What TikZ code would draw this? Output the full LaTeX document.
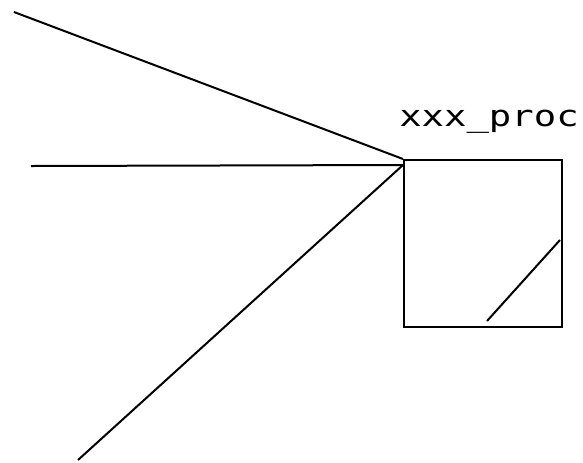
\documentclass[tikz,border=0pt]{standalone}
\usepackage{fontspec}
\usepackage{tikz}
\newfontfamily\plotfont{DejaVu Sans Mono}

\begin{document}
\begin{tikzpicture}[x=.75pt,y=-.75pt,line width=1.5pt,
    procbox/.style={draw,inner sep=0pt,minimum width=118.5pt,minimum height=125.25pt},
    proclabel/.style={inner sep=0pt,anchor=base west,xscale=1.27,font=\plotfont\fontsize{22}{24}\selectfont}]
  \useasboundingbox (0,0) rectangle (583,462);

  \node[procbox] (proc) at (483,243.5) {};
  \node[proclabel] (name) at (398,126) {xxx\_proc};

  \coordinate (inA) at (14,12);
  \coordinate (inB) at (31,166);
  \coordinate (inC) at (78,460);
  \draw (inA) -- (proc.north west);
  \draw (inB) -- ([yshift=-4.5pt]proc.north west);
  \draw (inC) -- ([yshift=-4.5pt]proc.north west);

  \draw (487,321) -- (560,240);
\end{tikzpicture}
\end{document}
